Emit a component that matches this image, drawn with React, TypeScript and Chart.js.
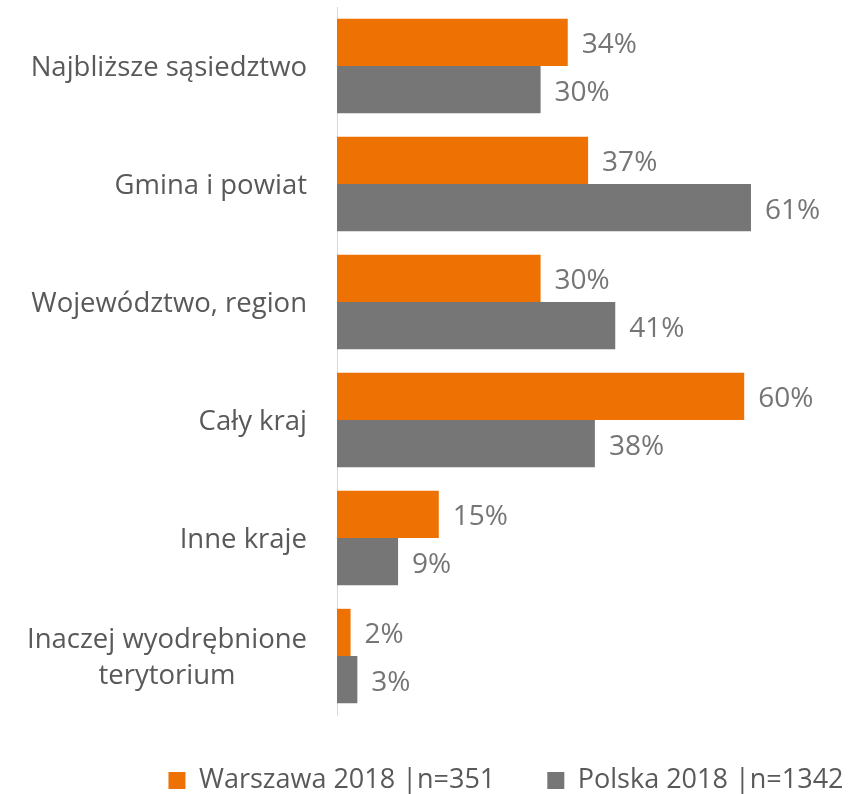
import React, { useEffect, useRef } from "react";
import { Chart, registerables } from "chart.js";

Chart.register(...registerables);

const categories: (string | string[])[] = [
  "Najbliższe sąsiedztwo",
  "Gmina i powiat",
  "Województwo, region",
  "Cały kraj",
  "Inne kraje",
  ["Inaczej wyodrębnione", "terytorium"],
];
const warszawa2018 = [34, 37, 30, 60, 15, 2];
const polska2018 = [30, 61, 41, 38, 9, 3];
const seriesNames = ["Warszawa 2018 |n=351", "Polska 2018 |n=1342"];
const seriesColors = ["#ED7203", "#767676"];
const xMin = 0;
const xMax = 75;

const FONT = "'Open Sans', 'Noto Sans', sans-serif";

const categoryLabelPlugin = {
  id: "categoryLabels",
  afterDraw(chart: any) {
    const ctx = chart.ctx;
    const yScale = chart.scales.y;
    const labels = chart.data.labels as (string | string[])[];
    ctx.save();
    ctx.font = `27.5px ${FONT}`;
    ctx.fillStyle = "#595959";
    ctx.textBaseline = "middle";
    ctx.textAlign = "center";
    const right = yScale.right - 30;
    const lineH = 36;
    labels.forEach((lab, i) => {
      const lines = Array.isArray(lab) ? lab : [lab];
      const maxW = Math.max(...lines.map((l) => ctx.measureText(l).width));
      const cx = right - maxW / 2;
      const cy = yScale.getPixelForTick(i) + 2;
      const top = cy - ((lines.length - 1) * lineH) / 2;
      lines.forEach((l, j) => ctx.fillText(l, cx, top + j * lineH));
    });
    ctx.restore();
  },
};

const valueLabelPlugin = {
  id: "valueLabels",
  afterDatasetsDraw(chart: any) {
    const ctx = chart.ctx;
    ctx.save();
    ctx.font = `28px ${FONT}`;
    ctx.fillStyle = "#757575";
    ctx.textBaseline = "middle";
    ctx.textAlign = "left";
    chart.data.datasets.forEach((ds: any, di: number) => {
      const meta = chart.getDatasetMeta(di);
      meta.data.forEach((bar: any, i: number) => {
        ctx.fillText(`${ds.data[i]}%`, bar.x + 14, bar.y + 3);
      });
    });
    ctx.restore();
  },
};

// shift the legend to the right (the reference's legend sits right of centre)
const legendShiftPlugin = {
  id: "legendShift",
  afterLayout(chart: any) {
    const lg = chart.legend;
    if (lg) {
      lg.left += 83;
      lg.right += 83;
    }
  },
};

export default function App() {
  const ref = useRef<HTMLCanvasElement | null>(null);
  useEffect(() => {
    if (!ref.current) return;
    const chart = new Chart(ref.current, {
      type: "bar",
      data: {
        labels: categories as any,
        datasets: [
          { label: seriesNames[0], data: warszawa2018, backgroundColor: seriesColors[0], borderWidth: 0 },
          { label: seriesNames[1], data: polska2018, backgroundColor: seriesColors[1], borderWidth: 0 },
        ],
      },
      options: {
        indexAxis: "y",
        responsive: true,
        maintainAspectRatio: false,
        animation: false,
        layout: { padding: { top: 7, right: 5, left: 0, bottom: 0 } },
        datasets: { bar: { categoryPercentage: 0.8, barPercentage: 1 } },
        scales: {
          x: { display: false, min: xMin, max: xMax },
          y: {
            display: true,
            grid: { display: false, drawTicks: false },
            border: { display: true, color: "#d9d9d9", width: 1 },
            ticks: { display: false },
            afterFit: (scale: any) => {
              scale.width = 337;
            },
          },
        },
        plugins: {
          tooltip: { enabled: false },
          legend: {
            position: "bottom",
            align: "center",
            labels: {
              boxWidth: 17,
              boxHeight: 17,
              padding: 52,
              color: "#595959",
              font: { family: FONT, size: 27 },
            },
          },
        },
      } as any,
      plugins: [categoryLabelPlugin, valueLabelPlugin, legendShiftPlugin],
    });
    return () => chart.destroy();
  }, []);
  return (
    <div style={{ position: "fixed", left: 0, top: 0, width: 851, height: 794, overflow: "hidden", background: "#fff" }}>
      <div style={{ position: "relative", width: 851, height: 804 }}>
        <canvas ref={ref} />
      </div>
    </div>
  );
}
